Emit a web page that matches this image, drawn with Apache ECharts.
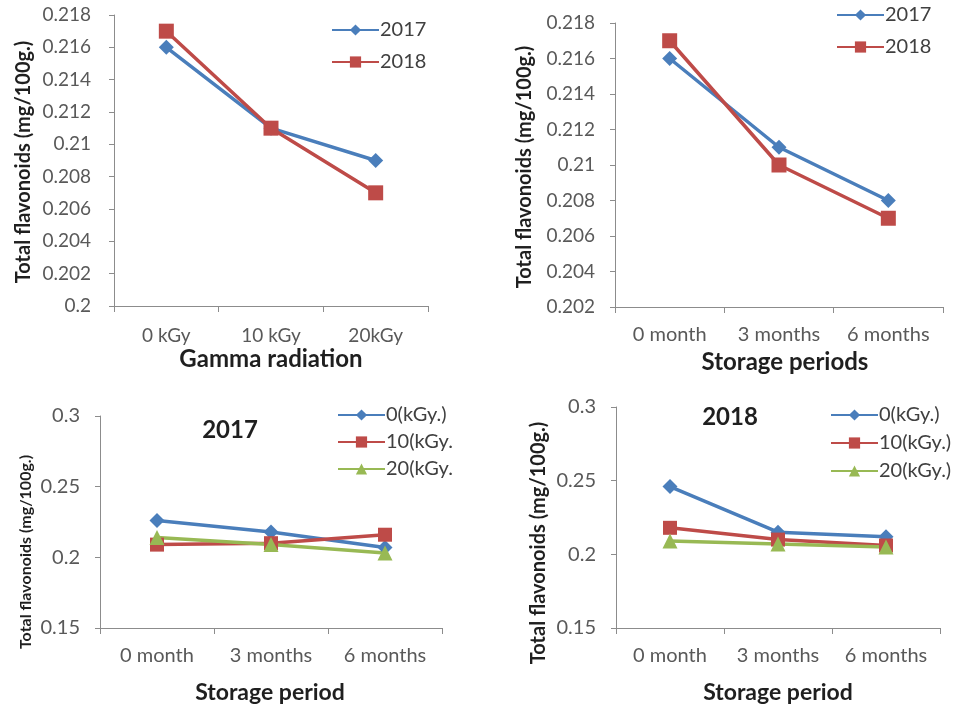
<!DOCTYPE html>
<html><head><meta charset="utf-8">
<script src="https://cdn.jsdelivr.net/npm/echarts@6/dist/echarts.min.js"></script>
<style>html,body{margin:0;padding:0;background:#fff}#c{width:956px;height:709px}</style>
</head><body><div id="c"></div>
<script>
// ---- Data ----
const gammaCats = ['0 kGy', '10 kGy', '20kGy'];
const gamma2017 = [0.216, 0.211, 0.209];
const gamma2018 = [0.217, 0.211, 0.207];

const storageCats = ['0 month', '3 months', '6 months'];
const storage2017 = [0.216, 0.211, 0.208];
const storage2018 = [0.217, 0.210, 0.207];

const y2017_0kGy = [0.226, 0.218, 0.207];
const y2017_10kGy = [0.209, 0.210, 0.216];
const y2017_20kGy = [0.214, 0.209, 0.203];

const y2018_0kGy = [0.246, 0.215, 0.212];
const y2018_10kGy = [0.218, 0.210, 0.206];
const y2018_20kGy = [0.209, 0.207, 0.205];

const topLeftTicks = { min: 0.2, max: 0.218, interval: 0.002 };
const topRightTicks = { min: 0.202, max: 0.218, interval: 0.002 };
const bottomTicks = { min: 0.15, max: 0.3, interval: 0.05 };

// ---- Style ----
const FONT = 'Lato';
const BLUE = '#4a7ebb', RED = '#be4b48', GREEN = '#98b954';
const AXIS = '#8c8c8c', LABEL = '#595959', DARK = '#1f1f1f';

const grids = [
  { left: 114, top: 15, width: 314, height: 291 },
  { left: 615, top: 23, width: 328, height: 284 },
  { left: 100, top: 416, width: 342, height: 212 },
  { left: 616, top: 407, width: 324, height: 221 }
];

function fmt(v) { return String(+v.toFixed(3)); }

function xAx(i, cats, size, margin) {
  return {
    type: 'category', gridIndex: i, data: cats, boundaryGap: true,
    axisLine: { lineStyle: { color: AXIS, width: 1 } },
    axisTick: { show: true, alignWithLabel: false, length: 6, lineStyle: { color: AXIS } },
    axisLabel: { margin: margin, fontFamily: FONT, fontSize: size, color: LABEL }
  };
}
function yAx(i, t, size, margin) {
  return {
    type: 'value', gridIndex: i, min: t.min, max: t.max, interval: t.interval,
    splitLine: { show: false },
    axisLine: { show: true, lineStyle: { color: AXIS, width: 1 } },
    axisTick: { show: true, length: 5, lineStyle: { color: AXIS } },
    axisLabel: { margin: margin, fontFamily: FONT, fontSize: size, color: LABEL, formatter: fmt }
  };
}
function ser(name, i, data, color, symbol, size) {
  return {
    type: 'line', name: name, xAxisIndex: i, yAxisIndex: i, data: data,
    symbol: symbol, symbolSize: size,
    lineStyle: { color: color, width: 3.5 },
    itemStyle: { color: color },
    emphasis: { disabled: true }, animation: false
  };
}
function leg(names, left, top, gap, size) {
  return {
    orient: 'vertical', left: left, top: top, itemGap: gap,
    itemWidth: 47, itemHeight: 14, padding: 0, selectedMode: false,
    textStyle: { fontFamily: FONT, fontSize: size, color: '#404040', padding: [0, 0, 0, -4] },
    data: names
  };
}
function txt(s, x, y, size, rot) {
  return {
    type: 'text', x: x, y: y, rotation: rot ? Math.PI / 2 : 0,
    style: { text: s, fontFamily: FONT, fontWeight: 'bold', fontSize: size, fill: DARK,
      align: 'center', verticalAlign: 'middle' }
  };
}

const chart = echarts.init(document.getElementById('c'), null, { renderer: 'canvas' });
chart.setOption({
  animation: false,
  grid: grids,
  xAxis: [xAx(0, gammaCats, 19, 20), xAx(1, storageCats, 20, 18), xAx(2, storageCats, 20, 18), xAx(3, storageCats, 20, 18)],
  yAxis: [yAx(0, topLeftTicks, 19, 23), yAx(1, topRightTicks, 19, 20), yAx(2, bottomTicks, 20, 20), yAx(3, bottomTicks, 20, 20)],
  legend: [
    leg(['2017', '2018'], 331, 20, 12, 20),
    leg(['2017', '2018'], 836, 5, 12, 20),
    leg(['0(kGy.)', '10(kGy.', '20(kGy.'], 337, 405, 7, 20),
    leg(['0(kGy.)', '10(kGy.)', '20(kGy.)'], 830, 405, 8, 20)
  ],
  series: [
    ser('2017', 0, gamma2017, BLUE, 'diamond', 15),
    ser('2018', 0, gamma2018, RED, 'rect', 15),
    ser('2017', 1, storage2017, BLUE, 'diamond', 15),
    ser('2018', 1, storage2018, RED, 'rect', 15),
    ser('0(kGy.)', 2, y2017_0kGy, BLUE, 'diamond', 15),
    ser('10(kGy.', 2, y2017_10kGy, RED, 'rect', 14),
    ser('20(kGy.', 2, y2017_20kGy, GREEN, 'triangle', 15),
    ser('0(kGy.)', 3, y2018_0kGy, BLUE, 'diamond', 15),
    ser('10(kGy.)', 3, y2018_10kGy, RED, 'rect', 14),
    ser('20(kGy.)', 3, y2018_20kGy, GREEN, 'triangle', 15)
  ],
  graphic: [
    txt('Gamma radiation', 271, 359, 24),
    txt('Storage periods', 785, 362, 24),
    txt('Storage period', 270, 693, 23),
    txt('Storage period', 778, 693, 23),
    txt('2017', 230, 430, 24),
    txt('2018', 730, 417, 24),
    txt('Total flavonoids (mg/100g.)', 24, 162, 20, true),
    txt('Total flavonoids (mg/100g.)', 525, 167, 20, true),
    txt('Total flavonoids (mg/100g.)', 26, 552, 16, true),
    txt('Total flavonoids (mg/100g.)', 539, 543, 20, true)
  ]
});
</script></body></html>
